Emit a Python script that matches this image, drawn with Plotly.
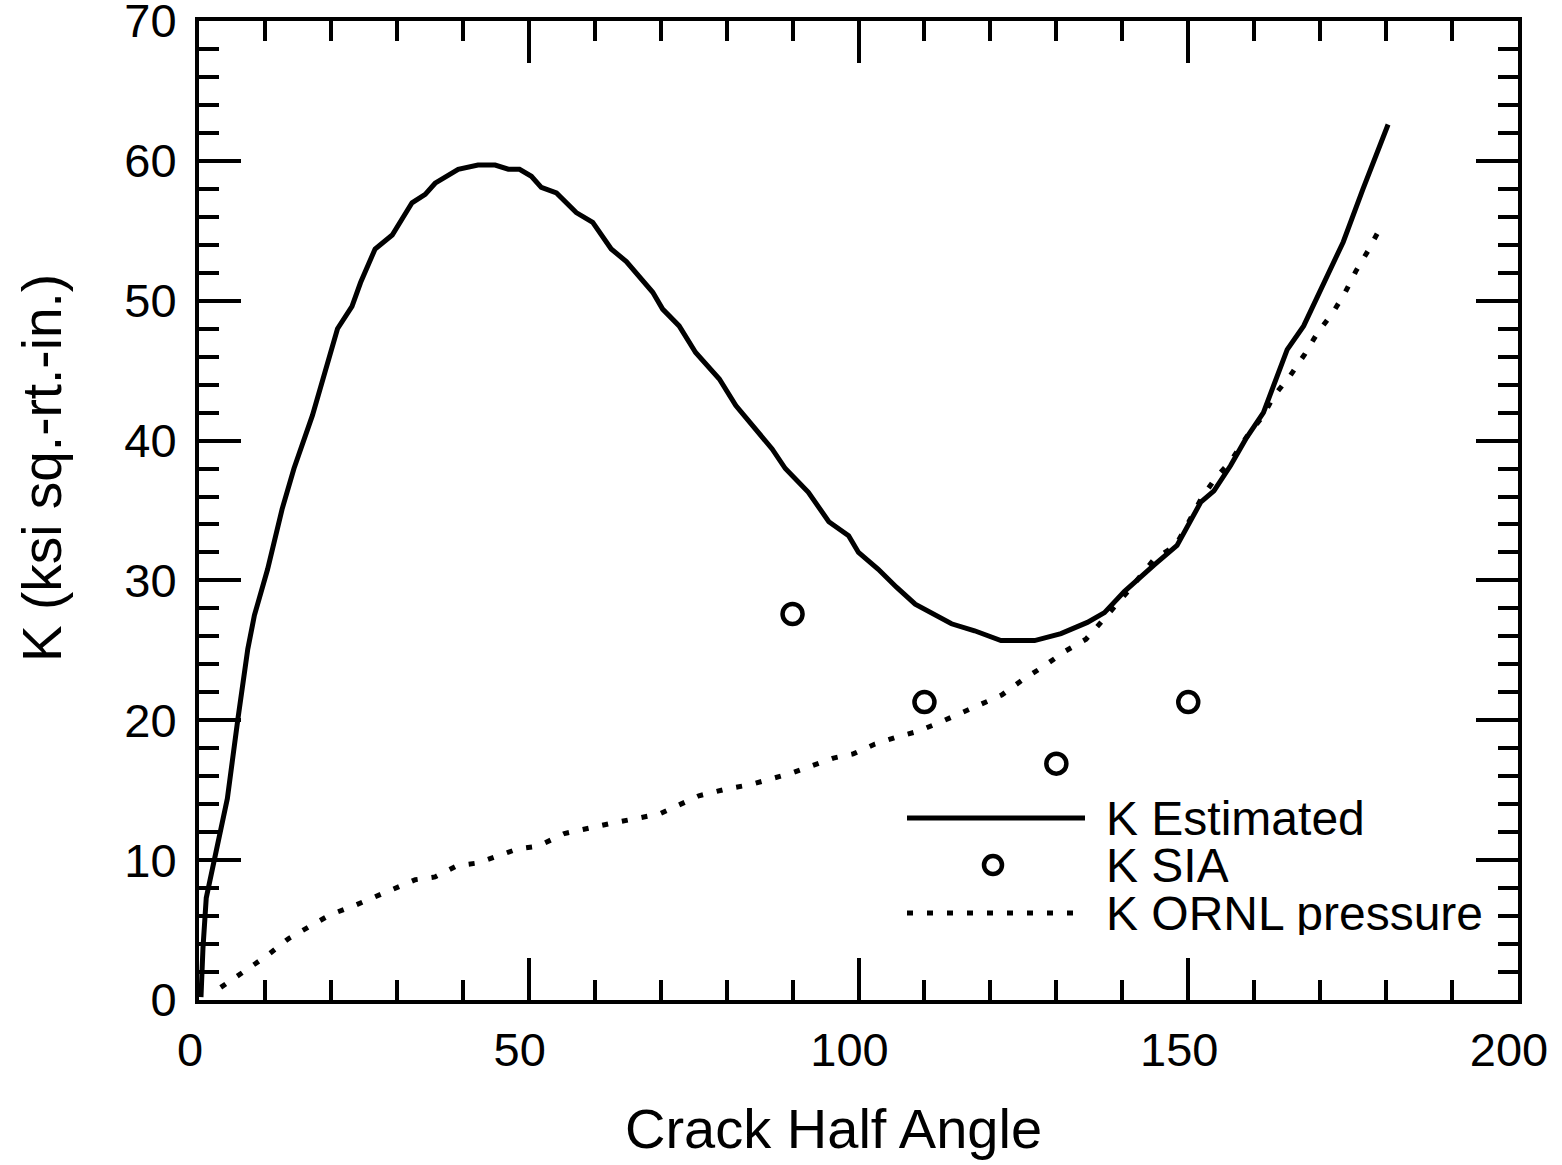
import plotly.graph_objects as go

# K Estimated (solid curve)
est_x = [0.3, 0.6, 1.1, 2.3, 4.3, 5.9, 7.4, 8.4, 10.4, 12.6, 14.4, 17.2, 19.4, 21.0, 23.2, 24.5, 26.7,
         29.3, 32.3, 34.3, 35.8, 39.3, 42.3, 44.9, 46.9, 48.6, 50.4, 51.9, 54.2, 57.2, 59.7, 62.5,
         64.8, 68.8, 70.3, 72.8, 75.3, 78.9, 81.4, 86.9, 88.9, 92.4, 95.5, 98.5, 100.0, 103.0,
         105.8, 108.6, 114.1, 117.6, 121.6, 126.7, 130.7, 134.7, 137.3, 140.3, 144.8, 148.3,
         151.9, 153.9, 156.4, 158.7, 161.4, 163.0, 165.0, 167.5, 171.0, 173.5, 176.5, 180.3]
est_y = [0.2, 3.7, 7.3, 10.0, 14.4, 20.1, 25.1, 27.5, 30.8, 35.1, 38.0, 41.8, 45.3, 48.0, 49.6, 51.3, 53.7,
         54.7, 57.0, 57.6, 58.4, 59.4, 59.7, 59.7, 59.4, 59.4, 58.9, 58.1, 57.7, 56.3, 55.6, 53.7,
         52.8, 50.6, 49.4, 48.2, 46.3, 44.4, 42.5, 39.4, 38.0, 36.3, 34.2, 33.2, 32.0, 30.8,
         29.5, 28.3, 26.9, 26.4, 25.7, 25.7, 26.2, 27.0, 27.7, 29.2, 31.1, 32.5,
         35.6, 36.4, 38.2, 40.1, 42.0, 43.9, 46.5, 48.2, 51.8, 54.2, 58.0, 62.6]

# K SIA (open circles)
sia_x = [90, 110, 130, 150]
sia_y = [27.6, 21.3, 16.9, 21.3]

# K ORNL pressure (dotted curve)
ornl_x = [3.3, 10.4, 13.6, 19.9, 23.3, 26.3, 29.5, 32.8, 35.8, 39.1, 42.3, 45.3, 48.3, 51.4, 55.4,
          62.2, 69.8, 75.8, 80.1, 83.6, 86.7, 89.7, 93.2, 96.2, 99.2, 102.5, 105.8, 108.9, 112.1,
          115.4, 118.4, 121.7, 124.9, 127.9, 131.2, 134.5, 137.5, 141.0, 144.8, 148.1, 150.1,
          151.9, 154.1, 156.4, 158.9, 161.4, 163.0, 165.4, 167.7, 169.6, 172.0, 173.8, 175.4,
          177.3, 179.1]
ornl_y = [0.9, 3.2, 4.4, 6.1, 6.7, 7.3, 8.0, 8.6, 8.8, 9.6, 9.8, 10.3, 10.8, 11.0, 11.9,
          12.6, 13.3, 14.6, 15.1, 15.4, 15.8, 16.2, 16.8, 17.3, 17.6, 18.3, 18.8, 19.2, 19.8,
          20.5, 21.1, 21.8, 22.9, 23.8, 24.9, 25.8, 27.4, 29.3, 31.5, 32.5, 34.2,
          35.8, 37.3, 38.5, 40.3, 41.8, 43.2, 44.6, 46.2, 47.7, 49.2, 50.6, 52.1,
          53.6, 55.2]

legend_names = ["K Estimated", "K SIA", "K ORNL pressure"]

FONT = "Liberation Sans, Arial, Helvetica, sans-serif"
DOT_DASH = "6px,14px"

W, H = 1562, 1165
L, R, T, B = 199, 44, 21, 165
PW = W - L - R   # plot width in px
PH = H - T - B   # plot height in px
BOTTOM = H - B

fig = go.Figure()
fig.add_trace(go.Scatter(x=est_x, y=est_y, mode="lines", name=legend_names[0],
                         line=dict(color="black", width=5), showlegend=False))
fig.add_trace(go.Scatter(x=sia_x, y=sia_y, mode="markers", name=legend_names[1],
                         marker=dict(symbol="circle-open", size=20, color="black",
                                     line=dict(width=4.5, color="black")), showlegend=False))
fig.add_trace(go.Scatter(x=ornl_x, y=ornl_y, mode="lines", name=legend_names[2],
                         line=dict(color="black", width=5, dash=DOT_DASH), showlegend=False))

axis_common = dict(
    showline=True, linecolor="black", linewidth=4, mirror="allticks",
    ticks="inside", ticklen=42, tickwidth=4, tickcolor="black",
    showgrid=False, zeroline=False, automargin=False,
    ticklabeloverflow="allow",
    tickfont=dict(family=FONT, size=47, color="black"),
)

fig.update_xaxes(range=[0, 200], tickvals=[0, 50, 100, 150, 200],
                 minor=dict(dtick=10, ticklen=20, tickwidth=4, tickcolor="black", ticks="inside", showgrid=False),
                 ticklabelstandoff=6, ticklabelshift=-9, **axis_common)
fig.update_yaxes(range=[0, 70], tickvals=[0, 10, 20, 30, 40, 50, 60, 70],
                 minor=dict(dtick=2, ticklen=20, tickwidth=4, tickcolor="black", ticks="inside", showgrid=False),
                 ticklabelstandoff=9, **axis_common)


# helpers: reference-picture pixel -> paper coordinates
def px_x(p):
    return (p - L) / PW


def px_y(p):
    return (BOTTOM - p) / PH


annotations = [
    dict(text="Crack Half Angle", x=px_x(833), y=px_y(1128), xref="paper", yref="paper",
         showarrow=False, font=dict(family=FONT, size=56, color="black"), xanchor="center", yanchor="middle"),
    dict(text="K (ksi sq.-rt.-in.)", x=px_x(42), y=px_y(468), xref="paper", yref="paper",
         showarrow=False, textangle=-90, font=dict(family=FONT, size=55, color="black"),
         xanchor="center", yanchor="middle"),
]

rows = [818, 865, 913]
for name, ry in zip(legend_names, rows):
    annotations.append(dict(text=name, x=px_x(1104), y=px_y(ry), xref="paper", yref="paper",
                            showarrow=False, xanchor="left", yanchor="middle", height=44, valign="middle",
                            font=dict(family=FONT, size=48, color="black")))

shapes = [
    dict(type="line", xref="paper", yref="paper", x0=px_x(907), x1=px_x(1085), y0=px_y(rows[0]), y1=px_y(rows[0]),
         line=dict(color="black", width=5)),
    dict(type="circle", xref="paper", yref="paper", xsizemode="pixel", ysizemode="pixel",
         xanchor=px_x(993), yanchor=px_y(rows[1]), x0=-9, x1=9, y0=-9, y1=9,
         line=dict(color="black", width=4.5)),
    dict(type="line", xref="paper", yref="paper", x0=px_x(907), x1=px_x(1085), y0=px_y(rows[2]), y1=px_y(rows[2]),
         line=dict(color="black", width=5, dash=DOT_DASH)),
]

fig.update_layout(
    width=W, height=H,
    margin=dict(l=L, r=R, t=T, b=B),
    paper_bgcolor="white", plot_bgcolor="white",
    annotations=annotations, shapes=shapes,
    showlegend=False,
    font=dict(family=FONT, color="black"),
)

# remove the browser's default 8px body margin so the figure fills the window exactly
fig.write_html("out.html", config={"displayModeBar": False},
               post_script="document.body.style.margin='0';")
